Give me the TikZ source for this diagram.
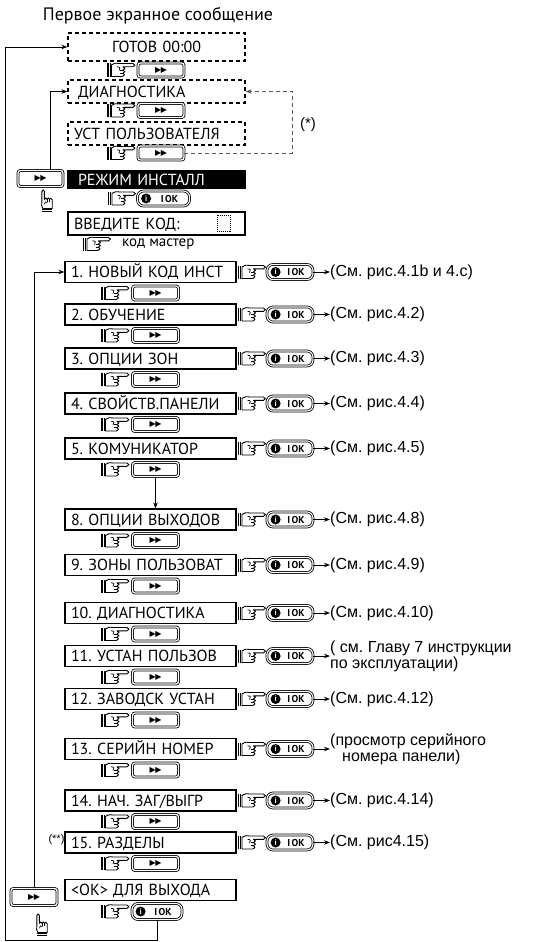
\documentclass[tikz,border=0pt]{standalone}
\usepackage{fontspec}
\setmainfont{PT Sans}
\newfontfamily\reffont{Liberation Sans}
\newfontfamily\symfont{DejaVu Sans}
\usetikzlibrary{arrows.meta, positioning, calc}
\frenchspacing

\begin{document}
\begin{tikzpicture}[
    x=1pt, y=-1pt,
    >={Stealth[length=6pt, width=4.5pt]},
    line/.style={line width=0.8pt},
    dashline/.style={line width=0.9pt, black!65, dash pattern=on 4pt off 3pt},
    screen/.style={draw, line width=1.2pt, text width=159pt, inner xsep=6pt, inner ysep=0pt,
        minimum height=21pt, text height=11pt, text depth=0pt, align=left,
        font=\fontsize{16}{16}\selectfont},
    dscreen/.style={screen, dash pattern=on 4pt off 3pt, text width=165pt},
    ffbtn/.style={draw, double, double distance=1.3pt, line width=0.8pt, rounded corners=2.5pt,
        minimum width=46pt, minimum height=14pt, inner sep=0pt, font=\symfont\fontsize{8}{8}\selectfont},
    okbtn/.style={draw, double, double distance=1.1pt, line width=0.8pt, rounded corners=6pt,
        minimum width=46pt, minimum height=15pt, inner sep=0pt, font=\bfseries\fontsize{10}{10}\selectfont},
    okdot/.style={circle, fill=black, inner sep=0pt, minimum size=10pt, text=white,
        font=\bfseries\fontsize{8}{8}\selectfont},
    ref/.style={font=\reffont\fontsize{16}{12.5}\selectfont, anchor=west, inner sep=0pt, align=left},
    note/.style={font=\reffont\fontsize{15}{15}\selectfont, inner sep=0pt},
    hand/.pic={
        \fill (-14,-6.5) rectangle (-10.5,6.5);
        \draw[white, line width=0.6pt] (-12,-6.5) -- (-12,6.5);
        \filldraw[fill=white, line width=0.9pt, line join=round]
            (-9.5,-5) .. controls (-6,-7) .. (-2,-6.5) -- (12,-6.5)
            .. controls (14.5,-6.5) and (14.5,-3.2) .. (12,-3.2) -- (2,-3.2)
            .. controls (4.5,-3.2) and (4.5,0) .. (2,0)
            .. controls (4.5,0) and (4.5,3.2) .. (2,3.2)
            .. controls (4,3.2) and (4,6.5) .. (1.5,6.5) -- (-9.5,6.5) -- cycle;
        \draw[line width=0.7pt] (-4,-3.2) .. controls (-1,-3.5) and (0,-1) .. (-2,0.5);
        \draw[line width=0.7pt] (-1,0) -- (2,0) (-1,3.2) -- (2,3.2);
    }
]
\useasboundingbox (0,0) rectangle (541,942);

% Button faces
\def\ff{▶\kern-0.5pt▶}
\def\ok{\hspace*{12pt}I\hspace{1.5pt}OK}

% ===== First screens =====
\node[font=\fontsize{18}{18}\selectfont] (title) at (158,16) {Первое экранное сообщение};
\node[dscreen, align=center, minimum height=28pt] (ready) at (156.5,47) {ГОТОВ 00:00};
\pic at (121,70) {hand};
\node[ffbtn] (readyB) at (161,70) {\ff};

\node[dscreen, minimum height=23pt] (diag) at (156.5,91.5) {\hspace*{4pt}ДИАГНОСТИКА};
\pic at (121,110.5) {hand};
\node[ffbtn] (diagB) at (161,110.5) {\ff};

\node[dscreen, minimum height=23pt] (user) at (156.5,133.5) {УСТ ПОЛЬЗОВАТЕЛЯ};
\pic at (121,153) {hand};
\node[ffbtn] (userB) at (161,153) {\ff};

% ===== Installer mode =====
\node[screen, text width=165pt, minimum height=17pt, fill=black, text=white] (inst) at (156.5,179.5) {\hspace*{4pt}РЕЖИМ ИНСТАЛЛ};
\node[ffbtn, minimum width=45pt, minimum height=16pt] (instFF) at (40.5,178.5) {\ff};
\pic[rotate=90, scale=0.8] at (47,201) {hand};
\pic at (121.5,198.5) {hand};
\node[okbtn, minimum width=52pt] (instOK) at (163.5,198.5) {\ok};
\node[okdot] (instOKd) at ([xshift=9pt]instOK.west) {i};

\node[screen, text width=165pt, minimum height=23pt] (code) at (156.5,223.5) {ВВЕДИТЕ КОД:};
\node[draw, densely dotted, line width=1pt, minimum width=13pt, minimum height=16pt] (codeCell) at (223.5,223) {};
\pic at (96.5,244) {hand};
\node[font=\fontsize{15}{15}\selectfont, anchor=west, inner sep=0pt] (codeT) at (122,244) {код мастер};

% ===== Menu items =====
\foreach \n/\txt/\refT/\yy in {
    1/{1. НОВЫЙ КОД ИНСТ}/{(См. рис.4.1b и 4.c)}/272,
    2/{2. ОБУЧЕНИЕ}/{(См. рис.4.2)}/314.5,
    3/{3. ОПЦИИ ЗОН}/{(См. рис.4.3)}/358.5,
    4/{4. СВОЙСТВ.ПАНЕЛИ}/{(См. рис.4.4)}/403.5,
    5/{5. КОМУНИКАТОР}/{(См. рис.4.5)}/448.5,
    8/{8. ОПЦИИ ВЫХОДОВ}/{(См. рис.4.8)}/519.5,
    9/{9. ЗОНЫ ПОЛЬЗОВАТ}/{(См. рис.4.9)}/565,
    10/{10. ДИАГНОСТИКА}/{(См. рис.4.10)}/613,
    11/{11. УСТАН ПОЛЬЗОВ}/{( см. Главу 7 инструкции\\по эксплуатации)}/656,
    12/{12. ЗАВОДСК УСТАН}/{(См. рис.4.12)}/699,
    13/{13. СЕРИЙН НОМЕР}/{(просмотр серийного\\\hspace*{12pt}номера панели)}/749,
    14/{14. НАЧ. ЗАГ/ВЫГР}/{(См. рис.4.14)}/800.5,
    15/{15. РАЗДЕЛЫ}/{(См. рис4.15)}/842.5} {
    \node[screen] (m\n) at (150.5,\yy) {\txt};
    \pic at (251.5,\yy) {hand};
    \node[okbtn] (mOK\n) at (290,\yy) {\ok};
    \node[okdot] (mOKd\n) at ([xshift=9pt]mOK\n.west) {i};
    \node[ref] (mRef\n) at (330,\yy) {\refT};
    \draw[line, ->] (mOK\n) -- (mRef\n);
    % step to the next item
    \pic at (115,\yy+21) {hand};
    \node[ffbtn] (nB\n) at (155.5,\yy+21) {\ff};
}
\node[note, font=\reffont\fontsize{11}{11}\selectfont] (star2) at (56.5,840) {(**)};

% ===== Exit =====
\node[screen] (exit) at (150.5,890) {<OK> ДЛЯ ВЫХОДА};
\pic at (115,911.5) {hand};
\node[okbtn, minimum width=50pt, minimum height=16pt] (exitOK) at (157,911.5) {\ok};
\node[okdot] (exitOKd) at ([xshift=9pt]exitOK.west) {i};
\node[ffbtn, minimum height=17pt] (lowFF) at (34,897) {\ff};
\pic[rotate=90, scale=0.8] at (42,925) {hand};

% ===== Loops =====
\coordinate (loopBL) at (5,940);
\draw[line, ->] (exitOK.south) |- (loopBL) |- (ready.west);
\draw[line, ->] (lowFF.north) |- (m1.west);
\draw[line, ->] ([xshift=9.5pt]instFF.north) |- (diag.west);
\draw[dashline, ->] (userB.east) -| ([xshift=47pt]diag.east) -- (diag.east);
\node[note] (star1) at (308,125) {(*)};
\draw[line, ->] (nB5.south) -- (nB5.south |- m8.north);

\end{tikzpicture}
\end{document}
